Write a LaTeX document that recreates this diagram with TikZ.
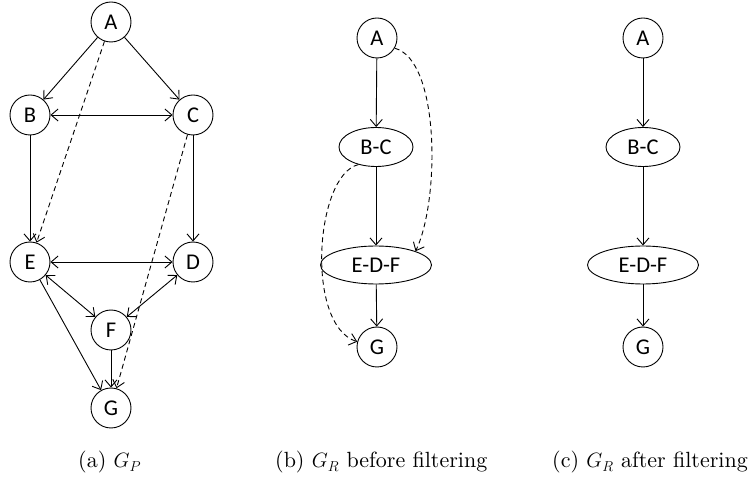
\documentclass[tikz,border=0pt]{standalone}
\usepackage{fontspec}
\newfontfamily\nodefont{Carlito}
\newfontfamily\capfont{lmroman10-regular}[Extension=.otf]
\usetikzlibrary{shapes.geometric,arrows.meta}
\tikzset{
  vnode/.style={circle,draw,line width=0.9pt,minimum size=40pt,inner sep=0pt,font=\nodefont\fontsize{22.5}{26}\selectfont},
  enode/.style={ellipse,draw,line width=0.9pt,inner sep=0pt,font=\nodefont\fontsize{22.5}{26}\selectfont},
  arr/.style={line width=0.9pt,-{Straight Barb[length=7pt,width=12pt,line width=0.9pt]}},
  biarr/.style={line width=0.9pt,{Straight Barb[length=7pt,width=12pt,line width=0.9pt]}-{Straight Barb[length=7pt,width=12pt,line width=0.9pt]}},
  darr/.style={arr,dash pattern=on 5pt off 3.5pt},
  captext/.style={anchor=base west,inner sep=0pt,font=\capfont\fontsize{22}{26}\selectfont}
}
\begin{document}
\begin{tikzpicture}[x=1pt,y=-1pt]
\useasboundingbox (0,0) rectangle (748,478);
% (a)
\node[vnode] (aA) at (111,22) {A};
\node[vnode] (aB) at (30,115) {B};
\node[vnode] (aC) at (193,115) {C};
\node[vnode] (aE) at (30,262) {E};
\node[vnode] (aD) at (193,262) {D};
\node[vnode] (aF) at (111,330) {F};
\node[vnode] (aG) at (111,408) {G};
\draw[arr] (aA) -- (aB);
\draw[arr] (aA) -- (aC);
\draw[biarr] (aB) -- (aC);
\draw[arr] (aB) -- (aE);
\draw[arr] (aC) -- (aD);
\draw[biarr] (aE) -- (aD);
\draw[biarr] (aE) -- (aF);
\draw[biarr] (aD) -- (aF);
\draw[arr] (aF) -- (aG);
\draw[arr] (aE) -- (aG);
\draw[darr] (aA) -- (aE);
\draw[darr] (aC) -- (aG);
% (b)
\node[vnode] (bA) at (377,38) {A};
\node[enode,minimum width=74pt,minimum height=39pt] (bBC) at (376,147) {B-C};
\node[enode,minimum width=111pt,minimum height=38pt] (bEDF) at (376,265) {E-D-F};
\node[vnode] (bG) at (377,347) {G};
\draw[arr] (bA) -- (bBC);
\draw[arr] (bBC) -- (bEDF);
\draw[arr] (bEDF) -- (bG);
\draw[darr] (bA.-30) .. controls (440,60) and (440,200) .. (bEDF.north east);
\draw[darr] (bBC.225) .. controls (315,175) and (305,325) .. (bG.165);
% (c)
\node[vnode] (cA) at (643,38) {A};
\node[enode,minimum width=74pt,minimum height=39pt] (cBC) at (643,147) {B-C};
\node[enode,minimum width=111pt,minimum height=38pt] (cEDF) at (643,265) {E-D-F};
\node[vnode] (cG) at (643,347) {G};
\draw[arr] (cA) -- (cBC);
\draw[arr] (cBC) -- (cEDF);
\draw[arr] (cEDF) -- (cG);
% captions
\node[captext] (capa) at (78,468) {(a) $G_P$};
\node[captext] (capb) at (275,468) {(b) $G_R$ before filtering};
\node[captext] (capc) at (552,468) {(c) $G_R$ after filtering};
\end{tikzpicture}
\end{document}
